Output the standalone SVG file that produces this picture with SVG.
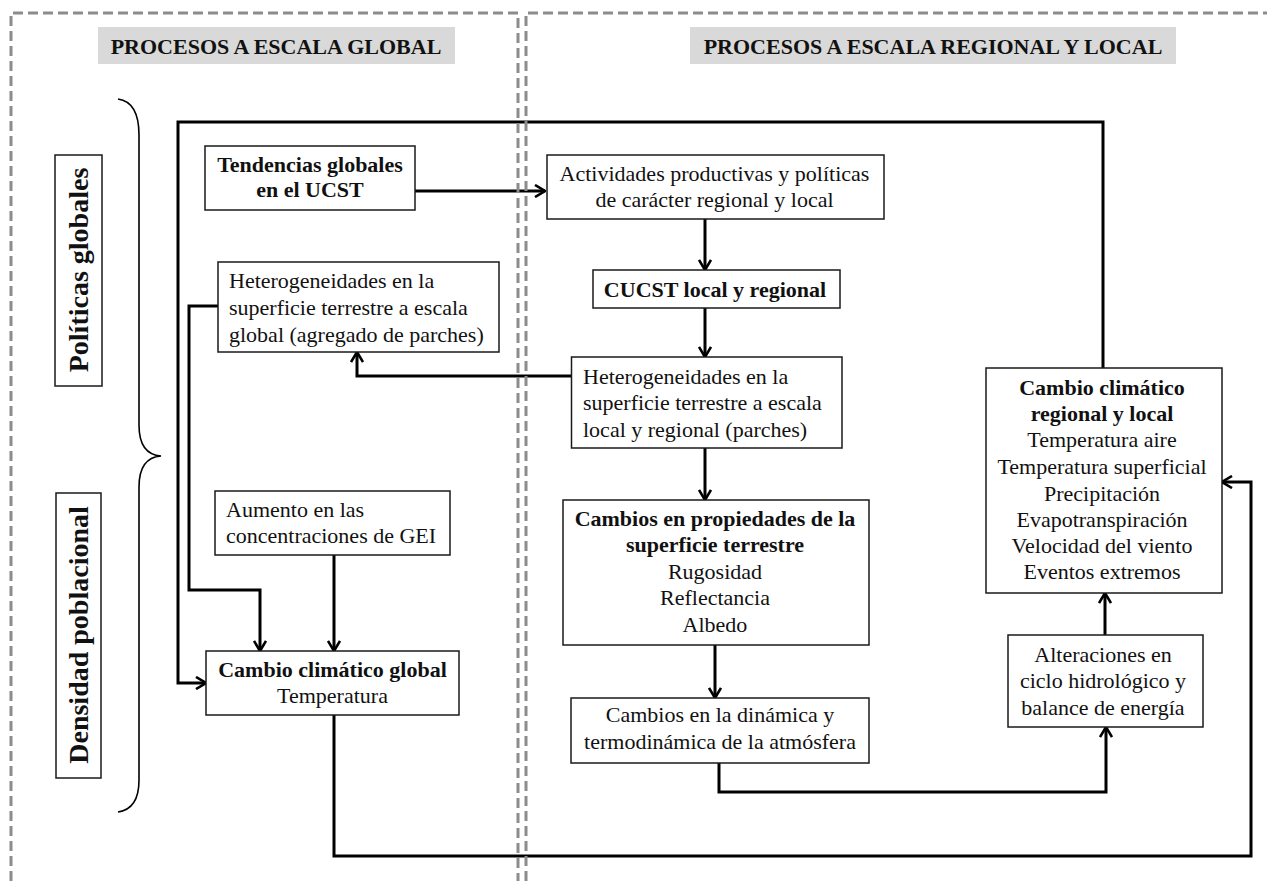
<svg xmlns="http://www.w3.org/2000/svg" width="1267" height="881" viewBox="0 0 1267 881">
<style>
.bg{fill:#ffffff}
.panel{fill:none;stroke:#8c8c8c;stroke-width:3;stroke-dasharray:10 5}
.hdr{fill:#d9d9d9;stroke:none}
.hdrt{font-family:"Liberation Serif","Times New Roman",serif;font-weight:bold;font-size:22px;fill:#111;text-anchor:middle}
.box{fill:#ffffff;stroke:#1a1a1a;stroke-width:1.5}
.lbl{fill:none;stroke:#1a1a1a;stroke-width:1.5}
.t{font-family:"Liberation Serif","Times New Roman",serif;font-size:22px;fill:#111}
.b{font-weight:bold}
.c{text-anchor:middle}
.vt{font-family:"Liberation Serif","Times New Roman",serif;font-weight:bold;font-size:28px;fill:#111;text-anchor:middle}
.con{fill:none;stroke:#000;stroke-width:3;stroke-linejoin:miter}
.brace{fill:none;stroke:#000;stroke-width:1.6}
</style>
<defs>
<marker id="arr" viewBox="0 0 12 14" refX="11" refY="7" markerWidth="12" markerHeight="14" markerUnits="userSpaceOnUse" orient="auto">
<path d="M1,1 L11,7 L1,13" fill="none" stroke="#000" stroke-width="2.6"/>
</marker>
</defs>
<rect class="bg" x="0" y="0" width="1267" height="881"/>

<g id="headers">
<rect class="hdr" x="98" y="27" width="357" height="37"/>
<text class="hdrt" x="276" y="54">PROCESOS A ESCALA GLOBAL</text>
<rect class="hdr" x="690" y="27" width="486" height="37"/>
<text class="hdrt" x="933" y="54">PROCESOS A ESCALA REGIONAL Y LOCAL</text>
</g>

<g id="side-labels">
<rect class="lbl" x="55" y="155" width="47" height="231"/>
<text class="vt" transform="translate(88,270) rotate(-90)">Políticas globales</text>
<rect class="lbl" x="56" y="493" width="45" height="285"/>
<text class="vt" transform="translate(88,635) rotate(-90)">Densidad poblacional</text>
<path class="brace" d="M118,99 C132,101 139,112 139,135 L139,425 C139,445 147,455 161,456 C147,457 139,467 139,487 L139,780 C139,800 132,810 118,812"/>
</g>

<g id="connectors">
<path class="con" d="M411,191 H545" marker-end="url(#arr)"/>
<path class="con" d="M705,219 V270" marker-end="url(#arr)"/>
<path class="con" d="M705,308 V357" marker-end="url(#arr)"/>
<path class="con" d="M571.5,376 H357 V352" marker-end="url(#arr)"/>
<path class="con" d="M705,448 V500" marker-end="url(#arr)"/>
<path class="con" d="M715,645 V698" marker-end="url(#arr)"/>
<path class="con" d="M719,763 V792 H1106 V727" marker-end="url(#arr)"/>
<path class="con" d="M1105,635 V593" marker-end="url(#arr)"/>
<path class="con" d="M1103,368 V122 H178 V683 H206" marker-end="url(#arr)"/>
<path class="con" d="M218,306 H189 V590 H260 V651" marker-end="url(#arr)"/>
<path class="con" d="M334,555 V651" marker-end="url(#arr)"/>
<path class="con" d="M334,715 V856 H1251 V482 H1222" marker-end="url(#arr)"/>
</g>

<g id="panels">
<path class="panel" d="M11,881 V13 H518 V881"/>
<path class="panel" d="M526,881 V13 H1267"/>
</g>

<g id="n-tendencias">
<rect class="box" x="205" y="146" width="210" height="64"/>
<text class="t b c" x="310" y="172">Tendencias globales</text>
<text class="t b c" x="310" y="197">en el UCST</text>
</g>

<g id="n-actividades">
<rect class="box" x="547" y="155" width="337" height="64"/>
<text class="t c" x="714.5" y="181">Actividades productivas y políticas</text>
<text class="t c" x="714.5" y="207">de carácter regional y local</text>
</g>

<g id="n-cucst">
<rect class="box" x="593" y="270" width="247" height="38"/>
<text class="t b c" x="715" y="297">CUCST local y regional</text>
</g>

<g id="n-het-global">
<rect class="box" x="218" y="262" width="281" height="90"/>
<text class="t" x="229" y="288">Heterogeneidades en la</text>
<text class="t" x="229" y="315">superficie terrestre a escala</text>
<text class="t" x="229" y="342">global (agregado de parches)</text>
</g>

<g id="n-het-local">
<rect class="box" x="571.5" y="357" width="270.5" height="91"/>
<text class="t" x="583" y="384">Heterogeneidades en la</text>
<text class="t" x="583" y="410">superficie terrestre a escala</text>
<text class="t" x="583" y="437">local y regional (parches)</text>
</g>

<g id="n-aumento">
<rect class="box" x="215" y="491" width="235" height="64"/>
<text class="t" x="226" y="517">Aumento en las</text>
<text class="t" x="226" y="543">concentraciones de GEI</text>
</g>

<g id="n-cambio-global">
<rect class="box" x="206" y="651" width="253" height="64"/>
<text class="t b c" x="332.5" y="677">Cambio climático global</text>
<text class="t c" x="332.5" y="703">Temperatura</text>
</g>

<g id="n-propiedades">
<rect class="box" x="563" y="500" width="306" height="145"/>
<text class="t b c" x="715" y="526">Cambios en propiedades de la</text>
<text class="t b c" x="715" y="552">superficie terrestre</text>
<text class="t c" x="715" y="578.5">Rugosidad</text>
<text class="t c" x="715" y="605">Reflectancia</text>
<text class="t c" x="715" y="631.5">Albedo</text>
</g>

<g id="n-dinamica">
<rect class="box" x="571" y="698" width="298" height="65"/>
<text class="t c" x="720" y="722">Cambios en la dinámica y</text>
<text class="t c" x="720" y="749">termodinámica de la atmósfera</text>
</g>

<g id="n-alteraciones">
<rect class="box" x="1008" y="635" width="195" height="92"/>
<text class="t c" x="1103" y="662">Alteraciones en</text>
<text class="t c" x="1103" y="688">ciclo hidrológico y</text>
<text class="t c" x="1103" y="715">balance de energía</text>
</g>

<g id="n-regional">
<rect class="box" x="986" y="368" width="236" height="225"/>
<text class="t b c" x="1102" y="395">Cambio climático</text>
<text class="t b c" x="1102" y="421">regional y local</text>
<text class="t c" x="1102" y="447">Temperatura aire</text>
<text class="t c" x="1102" y="474">Temperatura superficial</text>
<text class="t c" x="1102" y="501">Precipitación</text>
<text class="t c" x="1102" y="527">Evapotranspiración</text>
<text class="t c" x="1102" y="553">Velocidad del viento</text>
<text class="t c" x="1102" y="579">Eventos extremos</text>
</g>
</svg>
